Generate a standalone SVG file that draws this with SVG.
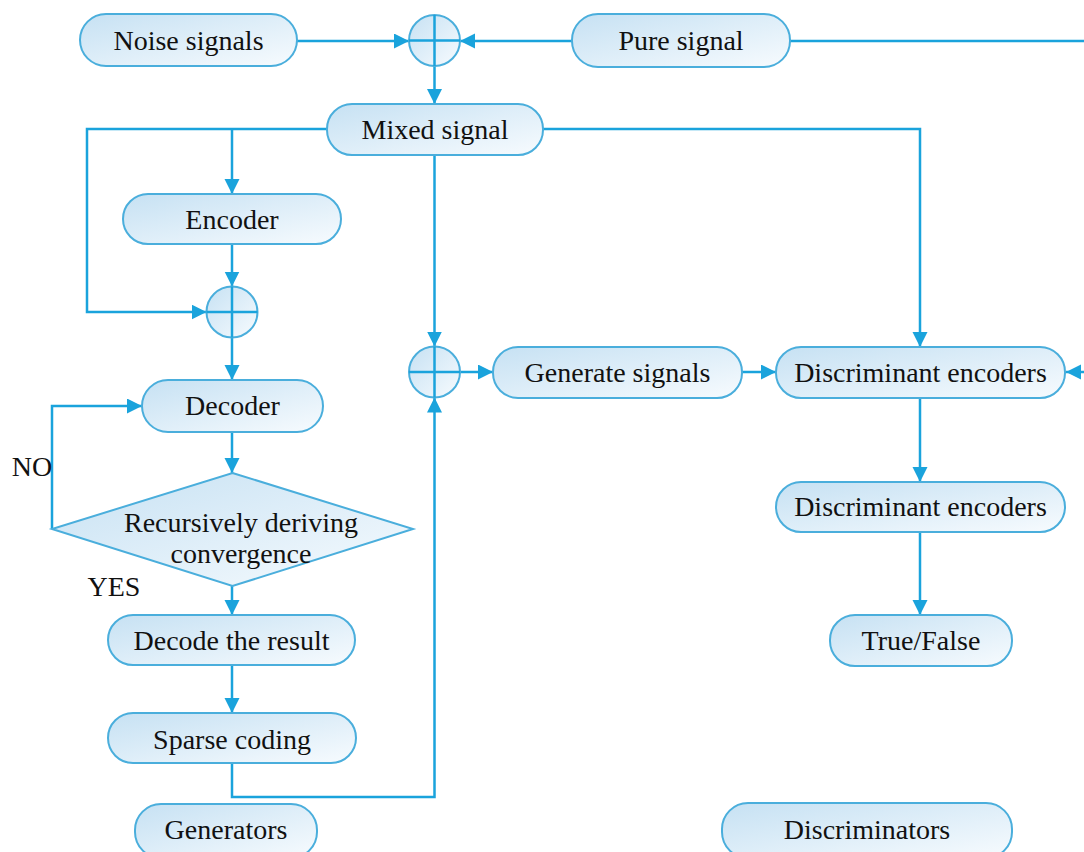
<svg xmlns="http://www.w3.org/2000/svg" width="1084" height="852" viewBox="0 0 1084 852">
<defs>
<linearGradient id="g" x1="0" y1="0" x2="1" y2="1">
<stop offset="0" stop-color="#c6e1f3"/>
<stop offset="1" stop-color="#f7fbfe"/>
</linearGradient>
<marker id="ah" markerUnits="userSpaceOnUse" markerWidth="16" markerHeight="16" refX="15" refY="7.5" orient="auto">
<path d="M0,0 L15,7.5 L0,15 z" fill="#1aa3dc"/>
</marker>
<style>
.box{fill:url(#g);stroke:#4aaedc;stroke-width:2}
.t{font-family:"Liberation Serif","Times New Roman",serif;font-size:28px;fill:#111;text-anchor:middle}
.c{fill:none;stroke:#1aa3dc;stroke-width:2.5}
.a{marker-end:url(#ah)}
.x{stroke:#1aa3dc;stroke-width:2.5}
</style>
</defs>
<rect width="1084" height="852" fill="#fff"/>
<g id="connectors">
<path class="c a" d="M297,41 H409"/>
<path class="c a" d="M572,41 H460"/>
<path class="c" d="M790,41 H1084"/>
<path class="c a" d="M434.5,66 V104"/>
<path class="c a" d="M327,129 H87 V312 H206.5"/>
<path class="c a" d="M232,129 V194"/>
<path class="c a" d="M543,129 H920 V347"/>
<path class="c a" d="M434.5,155 V346.5"/>
<path class="c a" d="M232,244 V286.5"/>
<path class="c a" d="M232,337.5 V380"/>
<path class="c a" d="M52,529 V406 H142"/>
<path class="c a" d="M232,432 V473"/>
<path class="c a" d="M232,586 V615"/>
<path class="c a" d="M232,665 V713"/>
<path class="c a" d="M232,763 V797 H434.5 V397.5"/>
<path class="c a" d="M460,372 H493"/>
<path class="c a" d="M742,372 H776"/>
<path class="c a" d="M1084,372 H1066"/>
<path class="c a" d="M920,398 V482"/>
<path class="c a" d="M920,532 V615"/>
</g>
<g id="noise"><rect class="box" x="80" y="14" width="217" height="52" rx="26"/><text class="t" x="188.5" y="50">Noise signals</text></g>
<g id="sum1"><circle class="box" cx="434.5" cy="40.5" r="25.5"/><path class="x" d="M409,40.5 H460 M434.5,15 V66"/></g>
<g id="pure"><rect class="box" x="572" y="14" width="218" height="53" rx="26"/><text class="t" x="681" y="50">Pure signal</text></g>
<g id="mixed"><rect class="box" x="327" y="104" width="216" height="51" rx="25"/><text class="t" x="435" y="139">Mixed signal</text></g>
<g id="encoder"><rect class="box" x="123" y="194" width="218" height="50" rx="25"/><text class="t" x="232" y="229">Encoder</text></g>
<g id="sum2"><circle class="box" cx="232" cy="312" r="25.5"/><path class="x" d="M206.5,312 H257.5 M232,286.5 V337.5"/></g>
<g id="decoder"><rect class="box" x="142" y="380" width="181" height="52" rx="26"/><text class="t" x="232.5" y="415">Decoder</text></g>
<g id="diamond"><path class="box" d="M232.5,473 L413,529 L232.5,586 L52,529 Z"/><text class="t" x="241" y="532">Recursively deriving</text><text class="t" x="241" y="563">convergence</text></g>
<g id="no"><text class="t" x="32" y="476">NO</text></g>
<g id="yes"><text class="t" x="114" y="596">YES</text></g>
<g id="decode"><rect class="box" x="108" y="615" width="247" height="50" rx="25"/><text class="t" x="231.5" y="650">Decode the result</text></g>
<g id="sparse"><rect class="box" x="108" y="713" width="248" height="50" rx="25"/><text class="t" x="232" y="749">Sparse coding</text></g>
<g id="generators"><rect class="box" x="135" y="804" width="182" height="54" rx="26"/><text class="t" x="226" y="839">Generators</text></g>
<g id="sum3"><circle class="box" cx="434.5" cy="372" r="25.5"/><path class="x" d="M409,372 H460 M434.5,346.5 V397.5"/></g>
<g id="generate"><rect class="box" x="493" y="347" width="249" height="51" rx="25"/><text class="t" x="617.5" y="382">Generate signals</text></g>
<g id="de1"><rect class="box" x="776" y="347" width="289" height="51" rx="25"/><text class="t" x="920.5" y="382">Discriminant encoders</text></g>
<g id="de2"><rect class="box" x="776" y="482" width="289" height="50" rx="25"/><text class="t" x="920.5" y="516">Discriminant encoders</text></g>
<g id="tf"><rect class="box" x="830" y="615" width="182" height="51" rx="25"/><text class="t" x="921" y="650">True/False</text></g>
<g id="discriminators"><rect class="box" x="722" y="803" width="290" height="55" rx="26"/><text class="t" x="867" y="839">Discriminators</text></g>
</svg>
